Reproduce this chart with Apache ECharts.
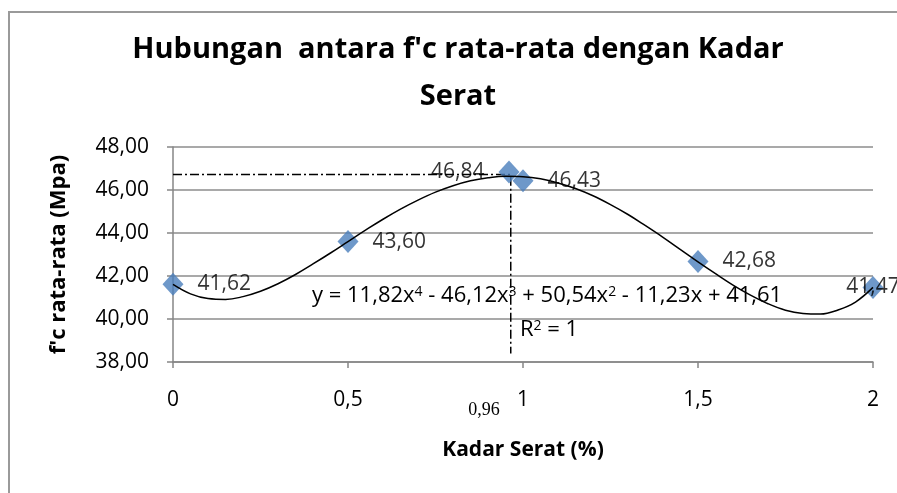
<!DOCTYPE html>
<html>
<head>
<meta charset="utf-8">
<script src="https://cdn.jsdelivr.net/npm/echarts@6/dist/echarts.min.js"></script>
<style>
  html, body { margin: 0; padding: 0; background: #fff; }
  #chart { width: 897px; height: 493px; }
</style>
</head>
<body>
<div id="chart"></div>
<script>
// measured points (Kadar Serat %, f'c MPa)
const kadarSerat = [0, 0.5, 0.96, 1, 1.5, 2];
const fcRata = [41.62, 43.60, 46.84, 46.43, 42.68, 41.47];
const labelPos = ['right', 'right', 'left', 'right', 'right', 'inside'];

// polynomial trendline, every 0.05
const trendX = [0, 0.05, 0.1, 0.15, 0.2, 0.25, 0.3, 0.35, 0.4, 0.45, 0.5,
                0.55, 0.6, 0.65, 0.7, 0.75, 0.8, 0.85, 0.9, 0.95, 1.0,
                1.05, 1.1, 1.15, 1.2, 1.25, 1.3, 1.35, 1.4, 1.45, 1.5,
                1.55, 1.6, 1.65, 1.7, 1.75, 1.8, 1.85, 1.9, 1.95, 2.0];
const trendY = [41.61, 41.17, 40.95, 40.91, 41.04, 41.29, 41.64, 42.07, 42.56, 43.07, 43.60,
                44.13, 44.64, 45.11, 45.53, 45.90, 46.20, 46.43, 46.57, 46.64, 46.62,
                46.52, 46.33, 46.07, 45.73, 45.32, 44.86, 44.34, 43.80, 43.23, 42.66,
                42.11, 41.58, 41.11, 40.71, 40.41, 40.26, 40.23, 40.42, 40.79, 41.47];

// dash-dot guide to the peak
const guideX = [0, 0.965, 0.965];
const guideY = [46.72, 46.72, 38.4];

const yTicks = [38, 40, 42, 44, 46, 48];
const xTicks = [0, 0.5, 1, 1.5, 2];

const chart = echarts.init(document.getElementById('chart'));
const font = 'Open Sans';
const comma = v => String(v).replace('.', ',');

const option = {
    animation: false,
    textStyle: { fontFamily: font },
    grid: { left: 173, right: 24, top: 147, bottom: 131 },
    xAxis: {
        type: 'value',
        min: xTicks[0], max: xTicks[xTicks.length - 1], interval: 0.5,
        name: 'Kadar Serat (%)',
        nameLocation: 'middle', nameGap: 78,
        nameTextStyle: { fontSize: 21, fontWeight: 'bold', color: '#000', fontFamily: font },
        axisLine: { lineStyle: { color: '#868686', width: 1.5 } },
        axisTick: { show: true, length: 6, lineStyle: { color: '#868686', width: 1.5 } },
        axisLabel: { margin: 28, fontSize: 21, color: '#000', formatter: v => comma(v) },
        splitLine: { show: false }
    },
    yAxis: {
        type: 'value',
        min: yTicks[0], max: yTicks[yTicks.length - 1], interval: 2,
        name: "f'c rata-rata (Mpa)",
        nameLocation: 'middle', nameGap: 103, nameRotate: 90,
        nameTextStyle: { fontSize: 22, fontWeight: 'bold', color: '#000', fontFamily: font },
        axisLine: { show: true, lineStyle: { color: '#868686', width: 1.5 } },
        axisTick: { show: true, length: 6, lineStyle: { color: '#868686', width: 1.5 } },
        axisLabel: { margin: 24, fontSize: 21, color: '#000', formatter: v => v.toFixed(2).replace('.', ',') },
        splitLine: { lineStyle: { color: '#8c8c8c', width: 1.5 } }
    },
    series: [
        {
            type: 'line',
            data: guideX.map((x, i) => [x, guideY[i]]),
            showSymbol: false,
            lineStyle: { color: '#000', width: 1.5, type: [9, 3, 2, 3] },
            z: 1
        },
        {
            type: 'scatter',
            symbol: 'diamond',
            symbolSize: [21, 23],
            itemStyle: { color: '#4A7EBB' },
            data: kadarSerat.map((x, i) => ({
                value: [x, fcRata[i]],
                label: { position: labelPos[i] }
            })),
            label: {
                show: true, fontSize: 21, color: '#000', distance: 14,
                formatter: p => p.value[1].toFixed(2).replace('.', ',')
            },
            z: 2
        },
        {
            type: 'line',
            data: trendX.map((x, i) => [x, trendY[i]]),
            smooth: 0.4,
            showSymbol: false,
            lineStyle: { color: '#000', width: 1.5 },
            z: 3
        }
    ],
    graphic: [
        {
            type: 'rect', z: -1, silent: true,
            shape: { x: 9, y: 12, width: 1000, height: 600 },
            style: { fill: 'none', stroke: '#9a9a9a', lineWidth: 2 }
        },
        {
            type: 'text', x: 458, y: 73,
            style: {
                text: "Hubungan  antara f'c rata-rata dengan Kadar\nSerat",
                fontFamily: font, fontSize: 29, fontWeight: 'bold', fill: '#000',
                lineHeight: 47, align: 'center', verticalAlign: 'middle'
            }
        },
        {
            type: 'text', x: 312, y: 296, z: 10,
            style: {
                text: 'y = 11,82x{s|4} - 46,12x{s|3} + 50,54x{s|2} - 11,23x + 41,61',
                fontFamily: font, fontSize: 22, fill: '#000', verticalAlign: 'middle',
                rich: { s: { fontSize: 14, verticalAlign: 'top', fontFamily: font } }
            }
        },
        {
            type: 'text', x: 520, y: 330, z: 10,
            style: {
                text: 'R{s|2} = 1',
                fontFamily: font, fontSize: 22, fill: '#000', verticalAlign: 'middle',
                rich: { s: { fontSize: 14, verticalAlign: 'top', fontFamily: font } }
            }
        },
        {
            type: 'text', x: 484, y: 410,
            style: {
                text: '0,96', fontFamily: 'Liberation Serif', fontSize: 18, fill: '#000',
                align: 'center', verticalAlign: 'middle'
            }
        }
    ]
};
chart.setOption(option);
</script>
</body>
</html>
